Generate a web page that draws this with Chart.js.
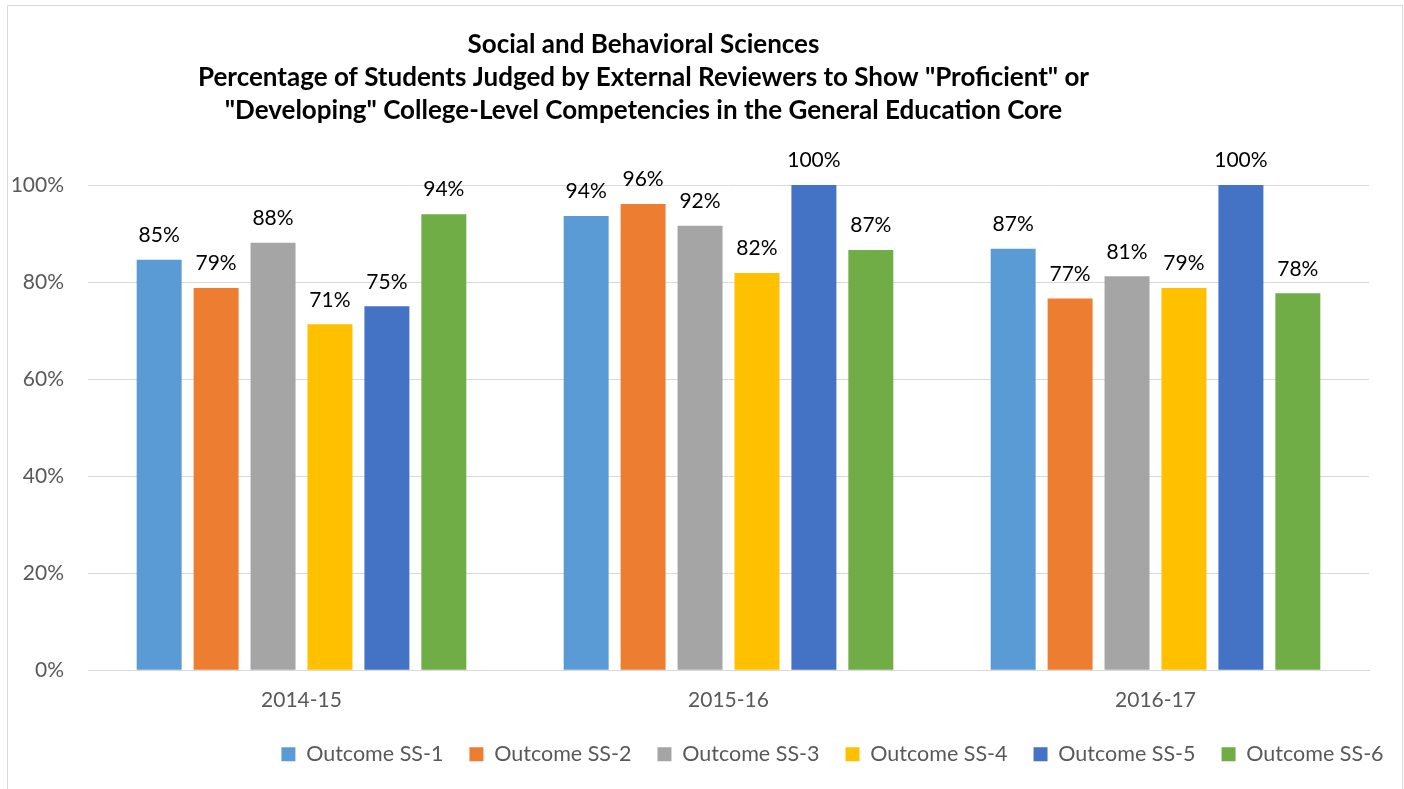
<!DOCTYPE html>
<html>
<head>
<meta charset="utf-8">
<script src="https://cdn.jsdelivr.net/npm/chart.js@4"></script>
<style>
  body { margin: 0; background: #fff; }
  #box { position: absolute; left: 7px; top: 5px; width: 1396px; height: 790px;
         border: 1px solid #d9d9d9; box-sizing: border-box; }
  #chart { position: absolute; left: 0; top: 0; }
</style>
</head>
<body>
<div id="box"><canvas id="chart" width="1394" height="783"></canvas></div>
<script>
var years = ['2014-15', '2015-16', '2016-17'];
var outcomes = ['Outcome SS-1', 'Outcome SS-2', 'Outcome SS-3', 'Outcome SS-4', 'Outcome SS-5', 'Outcome SS-6'];
var ss1 = [84.6, 93.6, 86.9];
var ss2 = [78.8, 96.1, 76.6];
var ss3 = [88.1, 91.6, 81.2];
var ss4 = [71.3, 81.9, 78.8];
var ss5 = [75.0, 100, 100];
var ss6 = [94.0, 86.6, 77.7];
var yTicks = [0, 20, 40, 60, 80, 100];
var colors = ['#5B9BD5', '#ED7D31', '#A5A5A5', '#FFC000', '#4472C4', '#70AD47'];
var titleLines = [
  'Social and Behavioral Sciences',
  'Percentage of Students Judged by External Reviewers to Show "Proficient" or',
  '"Developing" College-Level Competencies in the General Education Core'
];

var series = [ss1, ss2, ss3, ss4, ss5, ss6];
var datasets = [];
for (var i = 0; i < series.length; i++) {
  datasets.push({
    label: outcomes[i],
    data: series[i],
    backgroundColor: colors[i],
    borderWidth: 0,
    categoryPercentage: 0.8,
    barPercentage: 0.79
  });
}

// labels above each bar
var barLabels = {
  id: 'barLabels',
  afterDatasetsDraw: function(chart){
    var ctx = chart.ctx;
    ctx.save();
    ctx.font = '21px Lato';
    ctx.fillStyle = '#000';
    ctx.textAlign = 'center';
    ctx.textBaseline = 'bottom';
    chart.data.datasets.forEach(function(ds, i){
      chart.getDatasetMeta(i).data.forEach(function(bar, j){
        ctx.fillText(Math.round(ds.data[j]) + '%', bar.x, bar.y - 14);
      });
    });
    ctx.restore();
  }
};

// nudge legend and title a little, like the original
var blockNudge = {
  id: 'blockNudge',
  afterLayout: function(chart){
    var lg = chart.legend;
    lg.top -= 4; lg.bottom -= 4;
    lg.left += 142; lg.right += 142;
    var tb = chart.titleBlock;
    tb.left -= 47; tb.right -= 47;
  }
};

var opt = {
  type: 'bar',
  data: { labels: years, datasets: datasets },
  options: {
    responsive: false,
    animation: false,
    layout: { padding: { left: 4, right: 33, top: 22, bottom: 10 } },
    plugins: {
      title: {
        display: true,
        text: titleLines,
        color: '#000',
        font: { family: 'Lato', size: 26, weight: 'bold', lineHeight: 1.27 },
        padding: { top: 0, bottom: 58 }
      },
      legend: {
        position: 'bottom',
        labels: {
          color: '#595959',
          font: { family: 'Lato', size: 21.5 },
          boxWidth: 14,
          boxHeight: 14,
          padding: 26
        }
      },
      tooltip: { enabled: false }
    },
    scales: {
      x: {
        grid: { display: false },
        border: { color: '#d9d9d9' },
        ticks: { color: '#595959', font: { family: 'Lato', size: 21 }, padding: 9 }
      },
      y: {
        min: 0,
        max: 100,
        grid: { color: '#d9d9d9', drawTicks: false },
        border: { display: false },
        afterBuildTicks: function(scale){
          scale.ticks = yTicks.map(function(v){ return { value: v }; });
        },
        afterFit: function(scale){ scale.width = 76; },
        ticks: {
          color: '#595959',
          font: { family: 'Lato', size: 21 },
          padding: 24,
          callback: function(v){ return v + '%'; }
        }
      }
    }
  },
  plugins: [barLabels, blockNudge]
};

var ctx = document.getElementById('chart');
var chart = new Chart(ctx, opt);
</script>
</body>
</html>
